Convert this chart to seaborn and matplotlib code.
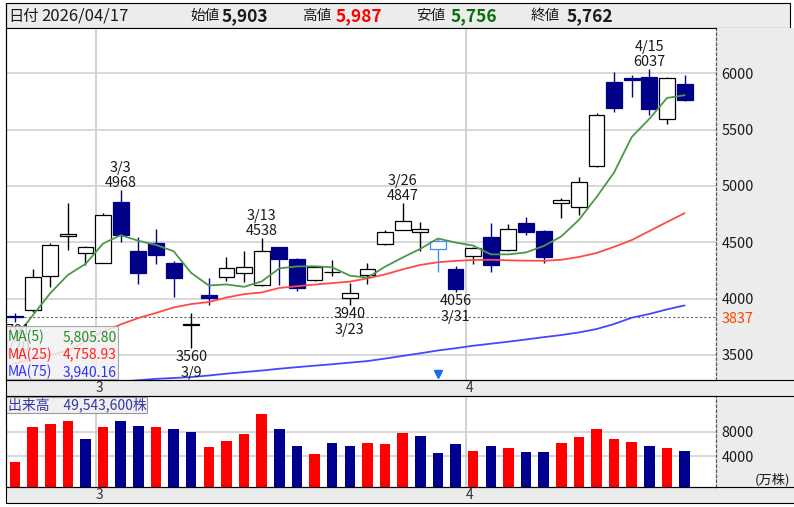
import numpy as np
import pandas as pd
import matplotlib
matplotlib.use("Agg")
import matplotlib.pyplot as plt
import matplotlib.transforms as mtransforms
from matplotlib.patches import Rectangle
from matplotlib.lines import Line2D
import seaborn as sns

# ---------------- data ----------------
dates = ["2/20", "2/24", "2/25", "2/26", "2/27", "3/2", "3/3", "3/4", "3/5", "3/6",
         "3/9", "3/10", "3/11", "3/12", "3/13", "3/16", "3/17", "3/18", "3/19", "3/23",
         "3/24", "3/25", "3/26", "3/27", "3/30", "3/31", "4/1", "4/2", "4/3", "4/6",
         "4/7", "4/8", "4/9", "4/10", "4/13", "4/14", "4/15", "4/16", "4/17"]
opens = [3845, 3899, 4204, 4552, 4408, 4319, 4855, 4426, 4491, 4313,
         3770, 4032, 4195, 4230, 4121, 4455, 4352, 4166, 4233, 4009,
         4210, 4485, 4609, 4589, 4441, 4260, 4378, 4544, 4432, 4674,
         4600, 4846, 4810, 5177, 5926, 5955, 5970, 5595, 5903]
highs = [3875, 4260, 4490, 4852, 4466, 4757, 4968, 4550, 4621, 4334,
         3875, 4180, 4373, 4423, 4538, 4460, 4360, 4290, 4343, 4136,
         4319, 4610, 4847, 4683, 4535, 4290, 4461, 4668, 4663, 4728,
         4605, 4890, 5083, 5645, 6015, 5985, 6037, 5970, 5987]
lows = [3791, 3885, 4100, 4432, 4299, 4315, 4506, 4130, 4307, 4017,
        3560, 3944, 4160, 4151, 4115, 4121, 4068, 4160, 4200, 3940,
        4130, 4480, 4605, 4423, 4233, 4056, 4304, 4239, 4420, 4565,
        4319, 4713, 4742, 5170, 5660, 5793, 5630, 5550, 5756]
closes = [3837, 4195, 4476, 4572, 4461, 4742, 4565, 4230, 4387, 4183,
          3775, 4009, 4275, 4284, 4423, 4352, 4097, 4284, 4233, 4053,
          4263, 4589, 4689, 4615, 4512, 4086, 4452, 4299, 4618, 4594,
          4373, 4876, 5032, 5630, 5695, 5940, 5683, 5956, 5762]
ma5 = [3650, 3850, 4048, 4210, 4308, 4489, 4563, 4514, 4477, 4421,
       4228, 4117, 4126, 4105, 4153, 4269, 4286, 4288, 4278, 4204,
       4186, 4284, 4365, 4442, 4534, 4498, 4471, 4393, 4393, 4410,
       4467, 4552, 4699, 4901, 5121, 5435, 5596, 5781, 5806]
ma25 = [3426, 3464, 3500, 3538, 3624, 3709, 3771, 3828, 3873, 3922,
        3952, 3970, 4010, 4040, 4055, 4095, 4110, 4125, 4138, 4151,
        4180, 4215, 4260, 4299, 4323, 4335, 4343, 4345, 4340, 4337,
        4336, 4345, 4370, 4405, 4460, 4520, 4600, 4680, 4759]
ma75 = [3190, 3202, 3214, 3226, 3238, 3250, 3262, 3276, 3288, 3296,
        3304, 3318, 3334, 3348, 3362, 3378, 3392, 3405, 3418, 3432,
        3446, 3468, 3492, 3515, 3540, 3560, 3582, 3600, 3618, 3638,
        3658, 3677, 3700, 3730, 3775, 3831, 3864, 3905, 3940]
volumes = [3122, 8715, 9203, 9789, 6764, 8715, 9789, 8976, 8715, 8390,
           7951, 5512, 6537, 7577, 10829, 8390, 5724, 4325, 6163, 5724,
           6163, 5951, 7740, 7350, 4488, 5951, 4910, 5724, 5300, 4699,
           4699, 6114, 7138, 8390, 6764, 6325, 5724, 5300, 4954]
vol_dir = ["up", "up", "up", "up", "down", "up", "down", "down", "up", "down",
           "down", "up", "up", "up", "up", "down", "down", "up", "down", "down",
           "up", "up", "up", "down", "down", "down", "up", "down", "up", "down",
           "down", "up", "up", "up", "up", "up", "down", "up", "down"]
peak_idx = [6, 14, 22, 36]
trough_idx = [0, 10, 19, 25]
month_start_idx = [5, 26]
month_labels = ["3", "4"]
price_ticks = [3500, 4000, 4500, 5000, 5500, 6000]
ref_price = 3837
vol_ticks = [4000, 8000]
ma_labels = ["MA(5)", "MA(25)", "MA(75)"]
ma_last = ["5,805.80", "4,758.93", "3,940.16"]
header_date = "2026/04/17"
last_volume_text = "49,543,600株"
highlight_idx = 24

# ---------------- style ----------------
sns.set_theme(style="white")
plt.rcParams['font.family'] = ['Noto Sans CJK JP', 'DejaVu Sans']
plt.rcParams['axes.unicode_minus'] = False

W, H = 794, 507
fig = plt.figure(figsize=(W / 100, H / 100), dpi=100, facecolor='white')


def fx(px):
    return px / W


def fy(py):
    return 1 - py / H


GRAY = '#ececec'
NAVY = '#000088'
GRID = '#d6d6d6'
TXT = '#1a1a1a'


def frect(x0, y0, x1, y1, fc, ec='none', lw=0.0, z=-5):
    fig.patches.append(Rectangle((fx(x0), fy(y1)), fx(x1) - fx(x0), fy(y0) - fy(y1),
                                 transform=fig.transFigure, facecolor=fc,
                                 edgecolor=ec, linewidth=lw, zorder=z))


def fline(x0, y0, x1, y1, color='black', lw=0.8, z=5):
    fig.lines.append(Line2D([fx(x0), fx(x1)], [fy(y0), fy(y1)], transform=fig.transFigure,
                            color=color, lw=lw, zorder=z))


# background zones
frect(6, 3, 790, 28, GRAY, ec='black', lw=0.8)
frect(716, 28, 794, 487, GRAY)
frect(6, 380, 794, 396, GRAY)
frect(6, 487, 794, 503, GRAY)
fline(6, 503, 794, 503)
fline(6, 380, 794, 380)
fline(6, 396, 794, 396)
fline(6, 487, 794, 487)
fline(6, 3, 6, 503)

# header
hy = fy(16)
fig.text(fx(8), hy, "日付", fontsize=11, va='center', ha='left', color=TXT)
fig.text(fx(41), hy, header_date, fontsize=12, va='center', ha='left', color=TXT)
hdr = [("始値", opens[-1], TXT, 190, 222), ("高値", highs[-1], '#ff0000', 302, 336),
       ("安値", lows[-1], '#0a6e0a', 416, 451), ("終値", closes[-1], TXT, 531, 567)]
for lab, val, col, xl, xv in hdr:
    fig.text(fx(xl), hy, lab, fontsize=10.5, va='center', ha='left', color=TXT)
    fig.text(fx(xv), hy, f"{val:,}", fontsize=12.5, fontweight='bold', va='center',
             ha='left', color=col)

XMIN, XMAX = -0.51, 39.78
idx = np.arange(len(dates))

# ---------------- price panel ----------------
ax = fig.add_axes([fx(6), fy(380), fx(716) - fx(6), fy(28) - fy(380)])
ax.set_facecolor('white')
for v in price_ticks:
    ax.axhline(v, color=GRID, lw=1.3, zorder=0.5)
for m in month_start_idx:
    ax.axvline(m - 0.40, color='#cfcfcf', lw=1.3, zorder=0.5)
ax.axhline(ref_price, color='#666666', lw=0.8, ls=(0, (2, 2)), zorder=1)

for i in idx:
    o, h, l, c = opens[i], highs[i], lows[i], closes[i]
    if i == highlight_idx:
        edge, fill = '#3d8eff', 'white'
    elif c >= o:
        edge, fill = 'black', 'white'
    else:
        edge, fill = NAVY, NAVY
    ax.vlines(i, l, h, color=edge, lw=1.0, zorder=2)
    ax.bar(i, abs(c - o), bottom=min(o, c), width=0.9, facecolor=fill,
           edgecolor=edge, linewidth=0.9, zorder=3)

mdf = pd.DataFrame({"i": idx, "ma5": ma5, "ma25": ma25, "ma75": ma75})
sns.lineplot(data=mdf, x="i", y="ma75", color='#4646ff', lw=1.3, ax=ax, zorder=4)
sns.lineplot(data=mdf, x="i", y="ma25", color='#ff4a4a', lw=1.3, ax=ax, zorder=4)
sns.lineplot(data=mdf, x="i", y="ma5", color='#4a984a', lw=1.3, ax=ax, zorder=4)


def clip_text(t):
    t.set_clip_box(ax.bbox)
    t.set_clip_on(True)


for i in peak_idx:
    clip_text(ax.annotate(f"{highs[i]}", (i, highs[i]), xytext=(0, 3), textcoords='offset pixels',
                          ha='center', va='baseline', fontsize=10.4, color=TXT, zorder=6))
    clip_text(ax.annotate(dates[i], (i, highs[i]), xytext=(0, 18), textcoords='offset pixels',
                          ha='center', va='baseline', fontsize=10.4, color=TXT, zorder=6))
for i in trough_idx:
    clip_text(ax.annotate(f"{lows[i]}", (i, lows[i]), xytext=(0, -12.5), textcoords='offset pixels',
                          ha='center', va='baseline', fontsize=10.4, color=TXT, zorder=6))
    clip_text(ax.annotate(dates[i], (i, lows[i]), xytext=(0, -28.5), textcoords='offset pixels',
                          ha='center', va='baseline', fontsize=10.4, color=TXT, zorder=6))

ax.set_xlim(XMIN, XMAX)
ax.set_ylim(3278, 6402)
ax.set_xlabel("")
ax.set_ylabel("")
ax.set_xticks([])
ax.yaxis.tick_right()
yt = sorted(price_ticks + [ref_price])
ax.set_yticks(yt)
ax.set_yticklabels([str(v) for v in yt])
ax.tick_params(axis='y', length=0, pad=4, labelsize=10.4, colors=TXT)
for t, v in zip(ax.get_yticklabels(), yt):
    if v == ref_price:
        t.set_color('#ff4400')
for s in ['top', 'bottom', 'left']:
    ax.spines[s].set_color('black')
    ax.spines[s].set_linewidth(0.8)
ax.spines['right'].set_color('#555555')
ax.spines['right'].set_linewidth(0.9)
ax.spines['right'].set_linestyle((0, (2, 2)))

# highlight marker
btr = mtransforms.blended_transform_factory(ax.transData, ax.transAxes)
ax.plot([highlight_idx], [0.018], marker='v', ms=6, color='#1a66ff', transform=btr,
        clip_on=False, zorder=7, ls='none')

# month labels strip
for m, lab in zip(month_start_idx, month_labels):
    ax.text(m - 0.40, -0.0227, lab, transform=btr, ha='left', va='center',
            fontsize=10, color='#333333', clip_on=False)

# MA legend box
ax.add_patch(Rectangle((0.0, 0.003), 0.1577, 0.150, transform=ax.transAxes,
                       facecolor='#f2f2f2', edgecolor='#999999', lw=0.8, alpha=0.85, zorder=8))
ma_cols = ['#2a8a2a', '#ff2020', '#3030ff']
for k, (lab, val, col) in enumerate(zip(ma_labels, ma_last, ma_cols)):
    yy = (380 - (337 + 17.5 * k)) / 352
    ax.text(0.0016, yy, lab, transform=ax.transAxes, ha='left', va='center',
            fontsize=10, color=col, zorder=9)
    ax.text(0.1560, yy, val, transform=ax.transAxes, ha='right', va='center',
            fontsize=10, color=col, zorder=9)

# ---------------- volume panel ----------------
vax = fig.add_axes([fx(6), fy(487), fx(716) - fx(6), fy(396) - fy(487)])
vax.set_facecolor('white')
VOL_FLOOR = -950
for v in vol_ticks:
    vax.axhline(v, color=GRID, lw=1.3, zorder=0.2)
for m in month_start_idx:
    vax.axvline(m - 0.40, color='#cfcfcf', lw=1.3, zorder=0.2)

vdf = pd.DataFrame({"i": idx, "vol": volumes, "dir": vol_dir})
sns.barplot(data=vdf, x="i", y="vol", hue="dir", palette={"up": '#ff0000', "down": '#000090'},
            native_scale=True, width=0.6, dodge=False, legend=False, errorbar=None,
            saturation=1, ax=vax, zorder=2)
for p in vax.patches:
    hgt = p.get_height()
    p.set_y(VOL_FLOOR)
    p.set_height(hgt - VOL_FLOOR)
    p.set_linewidth(0)

vax.set_xlim(XMIN, XMAX)
vax.set_ylim(VOL_FLOOR, 13800)
vax.set_xlabel("")
vax.set_ylabel("")
vax.set_xticks([])
vax.yaxis.tick_right()
vax.set_yticks(vol_ticks)
vax.set_yticklabels([str(v) for v in vol_ticks])
vax.tick_params(axis='y', length=0, pad=4, labelsize=10.4, colors=TXT)
for s in ['top', 'bottom', 'left']:
    vax.spines[s].set_color('black')
    vax.spines[s].set_linewidth(0.8)
vax.spines['right'].set_color('#555555')
vax.spines['right'].set_linewidth(0.9)
vax.spines['right'].set_linestyle((0, (2, 2)))

vtr = mtransforms.blended_transform_factory(vax.transData, vax.transAxes)
for m, lab in zip(month_start_idx, month_labels):
    vax.text(m - 0.40, (487 - 495) / 91, lab, transform=vtr, ha='left', va='center',
             fontsize=10, color='#333333', clip_on=False)

vax.add_patch(Rectangle((0.0, (487 - 413) / 91), (147 - 6) / 710, 16 / 91, transform=vax.transAxes,
                        facecolor='#f0f0f0', edgecolor='#999999', lw=0.8, zorder=8))
vax.text(2 / 710, (487 - 405) / 91, "出来高　" + last_volume_text, transform=vax.transAxes,
         ha='left', va='center', fontsize=10, color='#3535a8', zorder=9)
fig.text(fx(773), fy(480), "(万株)", fontsize=9.5, ha='center', va='center', color=TXT)

fig.savefig("out.png", dpi=100, facecolor='white')
